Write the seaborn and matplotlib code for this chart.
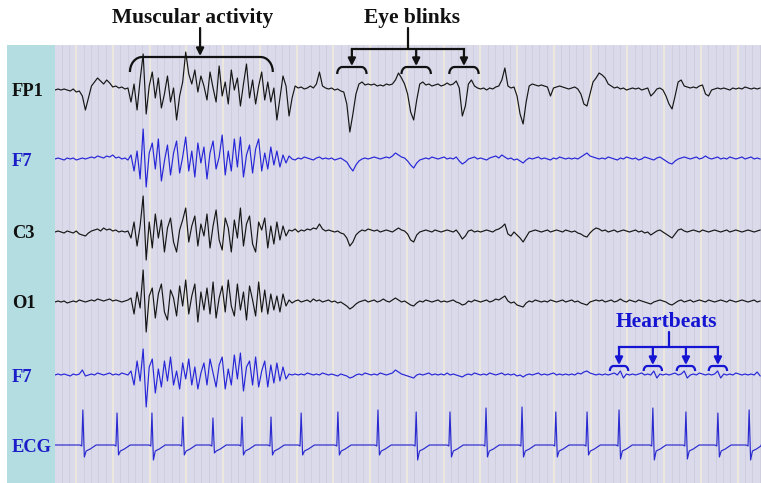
import numpy as np
import pandas as pd
import matplotlib
matplotlib.use("Agg")
import matplotlib.pyplot as plt
from matplotlib.ticker import MultipleLocator
import seaborn as sns

# ---------------- data (deflections) ----------------
SAMPLE_RATE = 12.09
T_START = -0.578             # time of first sample (s)

FP1 = [
    0, 1, 0, 1, 0, -1, 1, -2, -1, -6,
    -20, -8, 4, 8, 12, 9, 6, 10, 7, 3,
    4, 2, 3, 1, 2, -12, 6, -20, 10, 36,
    -24, 4, 18, -8, 12, -18, -4, 14, -12, 2,
    -30, -6, 8, 38, 16, 6, 20, -2, 14, 4,
    -10, 18, 2, -12, 24, -6, 8, -14, 20, 0,
    12, -16, 6, 26, -8, 10, -14, 4, 18, -10,
    8, -12, 2, -30, -8, 14, 4, -26, -8, 4,
    2, 3, 1, 2, 4, 2, 6, 18, 4, 2,
    1, 2, 0, 1, -1, -2, -14, -42, -24, -4,
    6, 8, 5, 6, 5, 6, 4, 5, 4, 6,
    5, 6, 10, 17, 12, 6, -4, -22, -30, -10,
    6, 8, 5, 6, 4, 5, 6, 4, 5, 7,
    5, 6, 9, 2, -26, -16, 6, 10, 4, 2,
    1, 2, 0, 2, 1, 3, 4, 10, 22, 4,
    2, 3, -6, -24, -34, -12, 4, 6, 5, 4,
    5, 4, 3, -6, 2, 3, 4, 3, 2, 1,
    2, 3, 1, -4, -14, -16, -4, 8, 12, 17,
    15, 12, 6, 4, 2, 3, 1, 2, 0, 1,
    2, 1, 2, 0, 1, 2, -6, -3, 1, 2,
    0, -6, -14, -19, -6, 8, 10, 4, 3, 2,
    3, 2, 4, 5, -4, -6, 0, 1, 2, 1,
    2, 1, 0, 2, 1, 2, 1, 3, 2, 1,
    2, 1, 2,
]

F7_A = [
    0, 1, 0, -1, 1, 0, 1, -1, 0, 1,
    0, 1, 2, 1, 3, 2, 1, 3, 2, 4,
    1, 2, 0, 1, -1, 4, -12, 8, -20, 30,
    -28, 6, 16, -10, 20, -22, -2, 14, -16, 6,
    18, -14, 2, 22, -12, 8, -18, 16, -4, 12,
    -20, 6, 18, -10, 2, 24, -16, 8, -12, 20,
    -8, 22, -18, 4, 14, -14, 10, 20, -12, 6,
    -10, 12, -6, 8, -8, 4, -4, 3, 0, -1,
    1, 0, 2, 1, 0, -1, 1, 2, 0, 1,
    0, 1, -1, 0, 1, -1, -3, -8, -12, -6,
    -2, 0, 1, 0, 1, 2, 1, 0, 1, 2,
    1, 3, 6, 4, 2, 1, -2, -6, -9, -4,
    -1, 0, 1, 0, 2, 1, 0, 1, 2, 0,
    1, 0, 2, -2, -5, -3, 0, 1, 2, 0,
    1, 0, -1, 1, 2, 3, 1, 4, 2, 0,
    1, -1, 0, -2, -4, -1, 1, 0, 1, 2,
    0, 1, 0, -1, 1, 0, 2, 1, 0, 1,
    0, 1, 0, 2, 4, 6, 3, 2, 1, 0,
    1, 0, 2, 1, 0, -1, 1, 0, 2, 1,
    0, 1, -1, 0, 2, 1, 0, -1, 1, 2,
    0, -2, -4, -5, -2, 0, 1, 2, 1, 0,
    1, 2, 0, 1, 3, 1, 0, 1, 2, 0,
    1, 0, 2, 1, 0, 1, 2, 0, 1, 2,
    0, 1, 0,
]

C3 = [
    0, 1, 0, -1, 1, 0, -1, 1, -2, -3,
    -4, -1, 1, 2, 3, 1, 4, 2, 3, 1,
    2, 0, 1, 0, 1, -6, 10, -14, 6, 36,
    -28, 10, -16, 18, -6, 12, -20, 4, 14, -10,
    -20, 2, 12, 24, -10, 6, 16, -14, 8, -4,
    18, -16, 6, 22, -8, -18, 14, 4, -20, 12,
    -6, 24, -14, 8, 16, -12, -20, 10, 2, 14,
    -16, 6, -12, 10, -8, 6, -4, 2, 1, 3,
    0, 2, 1, 3, 2, 4, 3, 8, 3, 1,
    2, 1, 0, 1, -1, -2, -6, -14, -10, -3,
    0, 2, 1, 3, 2, 1, 2, 0, 1, 2,
    1, 0, 2, 4, 2, 1, -2, -8, -10, -3,
    0, 1, 2, 1, 0, 2, 1, 0, 1, 2,
    1, 0, 2, -2, -7, -4, 1, 2, 0, 1,
    0, 1, 2, 1, 0, 2, 3, 5, 8, -2,
    -4, 0, -3, -6, -10, -5, 0, 1, 2, 1,
    0, 1, 2, 0, 1, 2, 1, 0, 2, 1,
    0, 1, -1, -2, -4, -5, -1, 2, 4, 3,
    1, 2, 0, 1, 2, 0, 1, 2, 1, 0,
    1, 2, 0, 1, -1, 0, -3, -1, 1, 2,
    0, -2, -4, -6, -2, 2, 3, 1, 0, 1,
    2, 1, 0, 2, 1, 0, 1, 2, 1, 0,
    1, 2, 0, 1, 2, 1, 0, 1, 2, 1,
    0, 1, 2,
]

O1 = [
    0, 1, 0, 1, -1, 0, 1, 0, 2, 1,
    0, 1, 2, 1, 3, 2, 1, 2, 3, 1,
    2, 1, 0, 1, 2, 4, -12, 10, -6, 32,
    -30, 6, 14, -16, 8, 18, -10, -18, 12, 4,
    -14, 16, -4, 22, -12, 6, 18, -20, 10, -8,
    14, -12, 20, -16, 4, 16, -10, 22, -4, -14,
    18, -8, 10, -18, 16, 2, -14, 20, -10, 12,
    -12, 8, -8, 6, -10, 8, -4, 2, -1, 1,
    2, 0, 1, 2, 0, 3, 1, 2, 0, 1,
    2, 0, 1, -1, 0, -2, -4, -7, -5, -2,
    0, 1, 2, 0, 1, 2, 0, 1, 3, 1,
    0, 2, 4, 2, 0, 1, -1, -3, -4, -1,
    1, 0, 2, 1, 0, 1, 2, 0, 1, 0,
    1, 2, 0, -1, -3, -2, 1, 0, 2, 1,
    0, 1, 2, 0, 1, 3, 2, 4, 6, 1,
    -1, 0, -3, -4, -5, -1, 1, 0, 2, 1,
    0, 1, 0, 2, 1, 0, 1, 2, 0, 1,
    2, 0, 1, -1, -2, -3, 0, 1, 2, 1,
    2, 0, 1, 2, 0, 1, 3, 1, 0, 2,
    1, 0, 2, 1, 0, -1, -2, 0, 1, 2,
    1, 0, -2, -3, -1, 1, 2, 0, 1, 2,
    0, 1, 2, 1, 0, 2, 1, 0, 1, 2,
    1, 0, 2, 1, 0, 1, 2, 1, 0, 1,
    2, 0, 1,
]

F7_B = [
    0, 1, 0, 1, 0, -1, 1, 0, 1, 5,
    -1, 0, 1, 0, 2, 1, 0, 1, 2, 0,
    1, 0, 2, 1, 0, 4, -10, 14, -6, 26,
    -32, 8, 16, -18, 6, -12, 14, -6, 18, -10,
    4, -14, 12, -4, 16, -10, 8, -14, 2, 12,
    -10, 16, 2, -12, 10, 18, -14, 6, -10, 20,
    -4, 22, -16, 8, 14, -10, 18, -12, 4, 14,
    -12, 10, -8, 12, -6, 8, -4, 1, 0, 1,
    0, 1, 0, 2, 1, 0, 1, 0, 2, 1,
    0, 1, 0, -1, 1, 0, -1, -3, -2, 0,
    1, 0, 2, 1, 0, 1, 0, 2, 1, 0,
    1, 2, 5, 3, 1, 0, -1, -2, -3, 0,
    1, 0, 1, 2, 0, 1, 0, 1, 0, 2,
    0, 1, 0, -1, -2, 0, 1, 0, 2, 1,
    0, 1, 0, 2, 1, 0, 1, 2, 0, 1,
    0, 1, -1, 0, -2, 0, 1, 0, 1, 2,
    0, 1, 0, 1, 2, 0, 1, 0, 1, 0,
    1, 0, 2, 1, 3, 4, 2, 1, 0, 1,
    0, 1, 0, 1, 2, 0, 4, -3, 1, 0,
    1, 0, 1, 2, 0, 1, 0, 4, -3, 1,
    0, 1, 0, 1, 2, 0, 1, 4, -3, 0,
    1, 0, 2, 1, 0, 1, 0, 1, 4, -3,
    1, 0, 1, 0, 2, 1, 0, 1, 0, 1,
    0, 3, -1,
]

# ECG: R-peak times (s), R heights, S depths
ECG_R_TIMES = [0.18, 1.11, 2.06, 2.90, 3.72, 4.51, 5.30, 6.12, 7.12, 8.21,
               9.25, 10.17, 11.15, 12.13, 13.05, 13.90, 14.77, 15.69, 16.59,
               17.46, 18.31]
ECG_R_AMP = [35, 32, 32, 28, 27, 28, 28, 32, 33, 35,
             33, 33, 37, 38, 33, 33, 35, 37, 33, 32, 35]
ECG_S_DEPTH = [12, 10, 15, 10, 8, 10, 10, 10, 10, 10,
               15, 12, 12, 12, 12, 10, 14, 15, 14, 12, 15]
BEAT_OFFSETS = [-0.08, -0.03, 0.0, 0.04, 0.09, 0.20, 0.36]

CHANNEL_NAMES = ["FP1", "F7", "C3", "O1", "F7", "ECG"]
CHANNEL_BASE = [393, 324, 251, 181, 108, 38]
CHANNEL_COLORS = ["#161616", "#2626d8", "#161616", "#161616", "#2626d8", "#2a2ad0"]
LABEL_COLORS = ["#111111", "#1c1cc8", "#111111", "#111111", "#1c1cc8", "#1c1cc8"]

BLINK_TIMES = [7.50, 9.25, 10.55]
MUSCLE_SPAN = (1.46, 5.35)
HEARTBEAT_IDX = [16, 17, 18, 19]

# ---------------- build long table ----------------
X_MIN, X_MAX = T_START, T_START + 706 / 36.75
rows = []
eeg = [FP1, F7_A, C3, O1, F7_B]
for k, sig in enumerate(eeg):
    assert len(sig) == 233, (k, len(sig))
    t = T_START + np.arange(len(sig)) / SAMPLE_RATE
    for ti, v in zip(t, sig):
        rows.append((f"ch{k}", ti, CHANNEL_BASE[k] + v))

ecg_t = [X_MIN]
ecg_v = [0.0]
for rt, amp, s in zip(ECG_R_TIMES, ECG_R_AMP, ECG_S_DEPTH):
    levels = [0, -1, amp, -s, -6, -4, 0]
    for off, lv in zip(BEAT_OFFSETS, levels):
        ecg_t.append(rt + off)
        ecg_v.append(lv)
ecg_t.append(X_MAX)
ecg_v.append(0.0)
for ti, v in zip(ecg_t, ecg_v):
    rows.append(("ch5", ti, CHANNEL_BASE[5] + v))

df = pd.DataFrame(rows, columns=["trace", "time", "value"])

# ---------------- figure ----------------
sns.set_theme(style="white")
plt.rcParams["font.family"] = ["Liberation Serif", "DejaVu Serif"]

W, H = 761, 483
fig = plt.figure(figsize=(W / 100, H / 100), dpi=100)
fig.patch.set_facecolor("white")
ax = fig.add_axes([55 / W, 0, 706 / W, 438 / H])
axl = fig.add_axes([7 / W, 0, 48 / W, 438 / H], sharey=ax)

ax.set_facecolor("#dadaea")
axl.set_facecolor("#b3dde1")

palette = {f"ch{k}": c for k, c in enumerate(CHANNEL_COLORS)}
sns.lineplot(data=df, x="time", y="value", hue="trace", palette=palette,
             estimator=None, sort=False, legend=False, linewidth=0.85, ax=ax)

ax.set_xlim(X_MIN, X_MAX)
ax.set_ylim(0, 438)
ax.xaxis.set_major_locator(MultipleLocator(1.0))
ax.xaxis.set_minor_locator(MultipleLocator(0.2))
ax.grid(True, which="minor", axis="x", color="#ceceDE", linewidth=0.7)
ax.grid(True, which="major", axis="x", color="#f0eadd", linewidth=1.3)
ax.grid(False, axis="y")
ax.set_axisbelow(True)
ax.tick_params(which="both", length=0, labelbottom=False, labelleft=False)
ax.set_xlabel("")
ax.set_ylabel("")
for sp in ax.spines.values():
    sp.set_visible(False)

axl.set_xlim(0, 1)
axl.tick_params(which="both", length=0, labelbottom=False, labelleft=False)
axl.grid(False)
for sp in axl.spines.values():
    sp.set_visible(False)
for name, base, col in zip(CHANNEL_NAMES, CHANNEL_BASE, LABEL_COLORS):
    axl.text(5 / 48, base, name, color=col, fontsize=13.3, fontweight="bold",
             ha="left", va="center_baseline")

# ---------------- annotations ----------------
def bracket(t0, t1, y_top, drop, rx, color, lw):
    a1 = np.linspace(np.pi, np.pi / 2, 8)
    a2 = np.linspace(np.pi / 2, 0, 8)
    xs = np.concatenate([t0 + rx + rx * np.cos(a1), t1 - rx + rx * np.cos(a2)])
    ys = np.concatenate([y_top - drop + drop * np.sin(a1),
                         y_top - drop + drop * np.sin(a2)])
    ax.plot(xs, ys, color=color, lw=lw, clip_on=False, solid_capstyle="butt")


def arrow(t, y_from, y_to, color):
    ax.annotate("", xy=(t, y_to), xytext=(t, y_from), annotation_clip=False,
                arrowprops=dict(arrowstyle="-|>", color=color, lw=1.6,
                                mutation_scale=11, shrinkA=0, shrinkB=0))


BLACK = "#111111"
BLUE = "#1414d2"

# Muscular activity
ax.text(3.18, 465, "Muscular activity", fontsize=15.5, fontweight="bold",
        color=BLACK, ha="center", va="center")
arrow(3.37, 455, 427, BLACK)
bracket(MUSCLE_SPAN[0], MUSCLE_SPAN[1], 426, 15, 0.33, BLACK, 1.6)

# Eye blinks
ax.text(9.14, 465, "Eye blinks", fontsize=15.5, fontweight="bold",
        color=BLACK, ha="center", va="center")
ax.plot([9.03, 9.03], [455, 434], color=BLACK, lw=1.6, clip_on=False)
ax.plot([BLINK_TIMES[0], BLINK_TIMES[-1]], [434, 434], color=BLACK, lw=1.6,
        clip_on=False, solid_capstyle="projecting")
for bt in BLINK_TIMES:
    arrow(bt, 434, 417, BLACK)
    bracket(bt - 0.40, bt + 0.40, 416, 7, 0.14, BLACK, 1.6)

# Heartbeats
hb = [ECG_R_TIMES[i] for i in HEARTBEAT_IDX]
ax.text(16.05, 161, "Heartbeats", fontsize=15.5, fontweight="bold",
        color=BLUE, ha="center", va="center")
ax.plot([16.13, 16.13], [151, 136], color=BLUE, lw=1.6)
ax.plot([hb[0], hb[-1]], [136, 136], color=BLUE, lw=1.6,
        solid_capstyle="projecting")
for bt in hb:
    arrow(bt, 136, 118, BLUE)
    bracket(bt - 0.25, bt + 0.25, 117, 5, 0.1, BLUE, 1.6)

fig.savefig("out.png", dpi=100, facecolor="white")
